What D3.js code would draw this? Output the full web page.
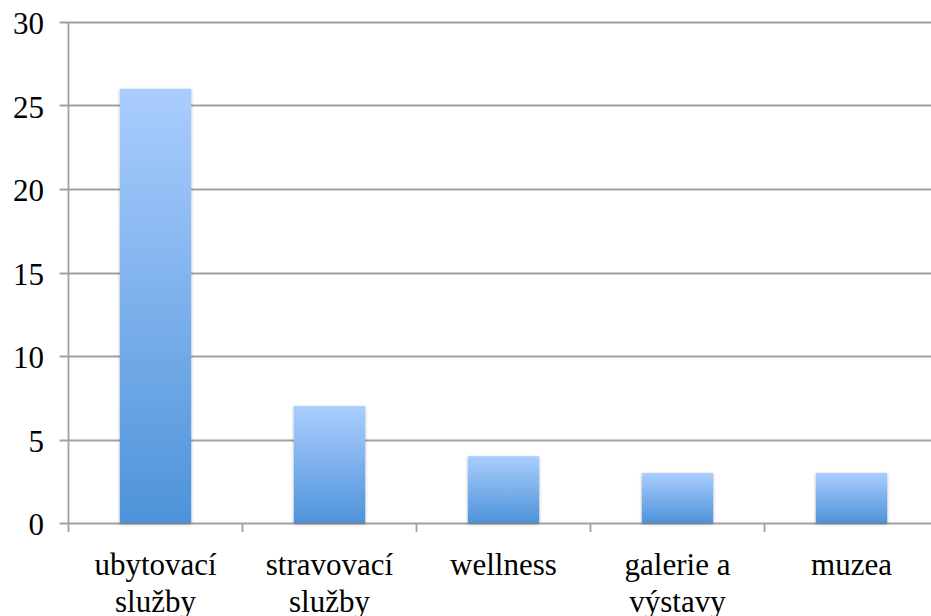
<!DOCTYPE html>
<html><head><meta charset="utf-8">
<script src="https://cdn.jsdelivr.net/npm/d3@7"></script>
<style>html,body{margin:0;padding:0;background:#fff;overflow:hidden}</style>
</head><body>
<svg id="c" width="931" height="616"></svg>
<script>
const categories = [["ubytovací","služby"],["stravovací","služby"],["wellness"],["galerie a","výstavy"],["muzea"]];
const values = [26, 7, 4, 3, 3];
const yTicks = [0, 5, 10, 15, 20, 25, 30];

const svg = d3.select("#c");
const plotLeft = 68.5, plotRight = 938.5, plotTop = 22, plotBottom = 523;
const keys = categories.map(c => c.join(" "));
const x = d3.scaleBand().domain(keys).range([plotLeft, plotRight]).padding(0);
const y = d3.scaleLinear().domain([0, 30]).range([plotBottom, plotTop]);
const font = "'Liberation Serif','Times New Roman',serif";

const defs = svg.append("defs");
const g = defs.append("linearGradient").attr("id","bg").attr("x1",0).attr("y1",0).attr("x2",0).attr("y2",1);
g.append("stop").attr("offset","0%").attr("stop-color","#aacdfe");
g.append("stop").attr("offset","100%").attr("stop-color","#4e93d9");
const f = defs.append("filter").attr("id","sh").attr("x","-20%").attr("y","-20%").attr("width","140%").attr("height","140%");
f.append("feGaussianBlur").attr("in","SourceAlpha").attr("stdDeviation",1.5).attr("result","b");
f.append("feOffset").attr("in","b").attr("dx",0).attr("dy",1).attr("result","o");
f.append("feComponentTransfer").attr("in","o").attr("result","o2").append("feFuncA").attr("type","linear").attr("slope",0.35);
const m = f.append("feMerge"); m.append("feMergeNode").attr("in","o2"); m.append("feMergeNode").attr("in","SourceGraphic");

// gridlines + y ticks
svg.append("g").selectAll("line").data(yTicks).join("line")
  .attr("x1", plotLeft - 9).attr("x2", plotRight)
  .attr("y1", d => Math.round(y(d)) + 0.5).attr("y2", d => Math.round(y(d)) + 0.5)
  .attr("stroke", "#a0a0a0").attr("stroke-width", 1.8);

// y axis line
svg.append("line").attr("x1", plotLeft).attr("x2", plotLeft).attr("y1", plotTop).attr("y2", plotBottom + 9)
  .attr("stroke", "#a0a0a0").attr("stroke-width", 1.8);

// category ticks
svg.append("g").selectAll("line").data(keys).join("line")
  .attr("x1", d => x(d) + x.bandwidth()).attr("x2", d => x(d) + x.bandwidth())
  .attr("y1", plotBottom).attr("y2", plotBottom + 9)
  .attr("stroke", "#a0a0a0").attr("stroke-width", 1.8);

// bars
const bw = x.bandwidth() * 0.41;
svg.append("g").selectAll("rect").data(values).join("rect")
  .attr("x", (d,i) => x(keys[i]) + (x.bandwidth() - bw)/2)
  .attr("width", bw)
  .attr("y", d => y(d))
  .attr("height", d => y(0) - y(d))
  .attr("fill", "url(#bg)")
  .attr("filter", "url(#sh)");

// y labels
svg.append("g").selectAll("text").data(yTicks).join("text")
  .attr("x", 44).attr("y", d => y(d) + 12)
  .attr("text-anchor", "end")
  .attr("font-family", font).attr("font-size", 31).attr("fill", "#000")
  .text(d => d);

// x labels
const xl = svg.append("g").selectAll("text").data(categories).join("text")
  .attr("x", (d,i) => x(keys[i]) + x.bandwidth()/2)
  .attr("y", 575)
  .attr("text-anchor", "middle")
  .attr("font-family", font).attr("font-size", 31).attr("fill", "#000");
xl.selectAll("tspan").data(d => d).join("tspan")
  .attr("x", function(){ return this.parentNode.getAttribute("x"); })
  .attr("dy", (d,i) => i === 0 ? 0 : 37)
  .text(d => d);
</script>
</body></html>
